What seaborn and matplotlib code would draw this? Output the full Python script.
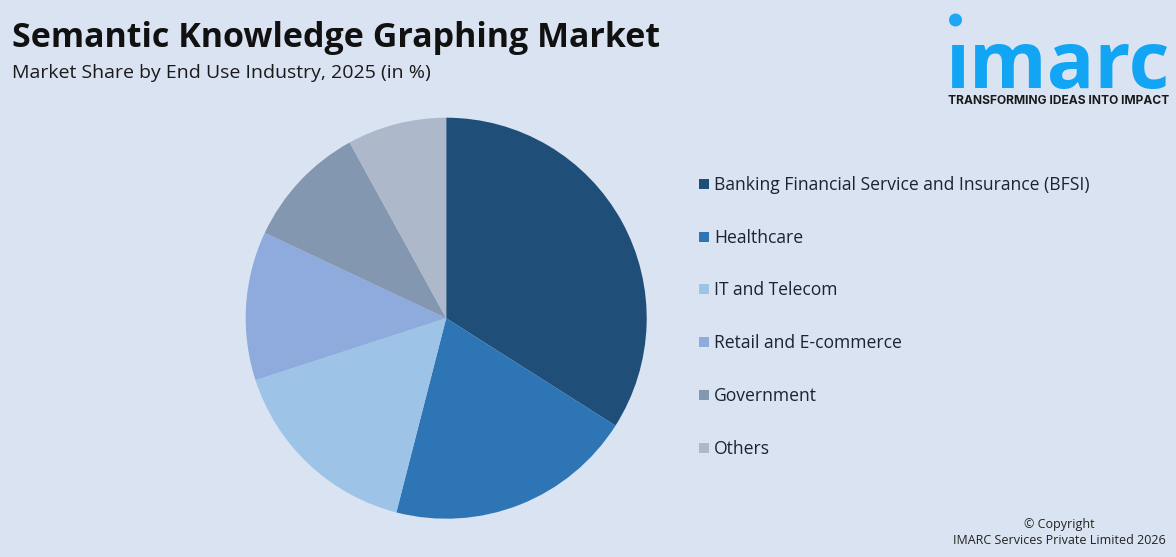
import matplotlib
matplotlib.use("Agg")
import matplotlib.pyplot as plt
import seaborn as sns
from matplotlib.patches import Ellipse

categories = ["Banking Financial Service and Insurance (BFSI)", "Healthcare", "IT and Telecom",
              "Retail and E-commerce", "Government", "Others"]
shares = [34, 20, 16, 12, 10, 8]
colors = ["#1F4E79", "#2E75B6", "#9DC3E6", "#8FAADC", "#8497B0", "#ADB9CA"]
legend_y = [184, 237, 289, 342, 395, 448]

BG = "#DAE3F1"
W, H = 1176, 557
sns.set_theme(style="white", rc={"figure.facecolor": BG, "axes.facecolor": BG})
plt.rcParams["font.family"] = ["Open Sans", "DejaVu Sans"]

fig = plt.figure(figsize=(W / 100, H / 100), dpi=100, facecolor=BG)
bg = fig.add_axes([0, 0, 1, 1])
bg.set_xlim(0, W)
bg.set_ylim(H, 0)
bg.axis("off")

ax = fig.add_axes([245.7 / W, 1 - 518.7 / H, 401 / W, 401 / H])
ax.pie(shares, colors=colors, startangle=90, counterclock=False, radius=1,
       wedgeprops={"linewidth": 0})
ax.set_xlim(-1, 1)
ax.set_ylim(-1, 1)

bg.text(12, 38, "Semantic Knowledge Graphing Market", fontsize=24.5, fontweight="bold",
        color="#111111", va="center", ha="left", family=["Open Sans"])
bg.text(12, 73, "Market Share by End Use Industry, 2025 (in %)", fontsize=14,
        color="#1a1a1a", va="center", ha="left", family=["Open Sans"])

for name, col, y in zip(categories, colors, legend_y):
    bg.add_patch(plt.Rectangle((699, y - 5), 10, 10, color=col, lw=0))
    bg.text(714, y + 1, name, fontsize=12.65, color="#1c2333", va="center", ha="left")

bg.add_patch(Ellipse((955.5, 20), 13, 13, color="#1EA7F5", lw=0))
bg.text(1058.5, 88, "ımarc", fontsize=57, fontweight="bold", color="#12A5F4",
        va="baseline", ha="center", family=["Open Sans", "DejaVu Sans"])
bg.text(1058.5, 100.5, "TRANSFORMING IDEAS INTO IMPACT", fontsize=8.65, fontweight="bold",
        color="#1a1a1a", va="center", ha="center", family=["Inter"])

bg.text(1059, 524.5, "© Copyright", fontsize=9.0, color="#222222", va="center", ha="center")
bg.text(1059, 540.5, "IMARC Services Private Limited 2026", fontsize=9.0, color="#222222",
        va="center", ha="center")

fig.savefig("out.png", dpi=100, facecolor=BG)
